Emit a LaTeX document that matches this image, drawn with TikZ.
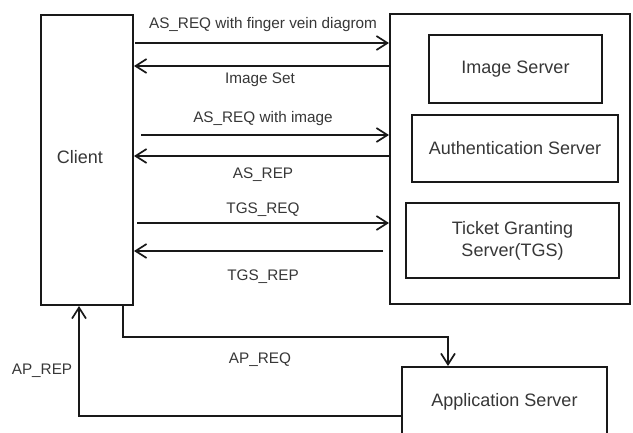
\documentclass[tikz,border=0pt]{standalone}
\usepackage{fontspec}
\setmainfont{Liberation Sans}
\usetikzlibrary{arrows.meta}
\definecolor{txtgray}{RGB}{55,55,55}
\definecolor{linec}{RGB}{25,25,25}
\begin{document}
\begin{tikzpicture}[x=1pt,y=-1pt,
  box/.style={draw=linec, line width=2pt, inner sep=0pt, align=center,
    text=txtgray, font=\fontsize{18}{22}\selectfont},
  lab/.style={text=txtgray, inner sep=0pt, font=\fontsize{15.3}{18}\selectfont},
  msg/.style={draw=linec, -{Straight Barb[length=11pt,width=14pt,line width=1.7pt]}},
  thickmsg/.style={msg, line width=2.3pt},
  midmsg/.style={msg, line width=1.6pt},
  thinmsg/.style={msg, line width=1.1pt}]
\path[fill=white,use as bounding box] (0,0) rectangle (633,432);
% nodes
\node[box, minimum width=92pt, minimum height=290pt] (client) at (87,160) {};
\node[text=txtgray, inner sep=0pt, font=\fontsize{18}{22}\selectfont] (clienttxt) at (80,157) {Client};
\node[box, minimum width=240pt, minimum height=290pt] (outer) at (510,159) {};
\node[box, minimum width=173pt, minimum height=68pt] (img) at (515.5,69) {Image Server};
\node[box, minimum width=206pt, minimum height=67pt] (auth) at (515,148.5) {Authentication Server};
\node[box, minimum width=213pt, minimum height=75pt] (tgs) at (512.5,240.5) {Ticket Granting\\Server(TGS)};
\node[box, minimum width=205pt, minimum height=70pt] (app) at (504.5,402) {Application Server};
% helper coordinates
\coordinate (s1) at (135,43);
\coordinate (y2) at (0,66);
\coordinate (s3) at (141,135);
\coordinate (y4) at (0,156);
\coordinate (s5) at (137,223);
\coordinate (s6) at (383,251);
\coordinate (apq) at (123,337);
\coordinate (apd) at (448,337);
\coordinate (apr) at (79,416);
% messages
\draw[thickmsg] (s1) -- (outer.west |- s1);
\draw[thickmsg] (outer.west |- y2) -- (client.east |- y2);
\draw[midmsg] (s3) -- (outer.west |- s3);
\draw[midmsg] (outer.west |- y4) -- (client.east |- y4);
\draw[thinmsg] (s5) -- (outer.west |- s5);
\draw[thickmsg] (s6) -- (client.east |- s6);
\draw[midmsg] (client.south -| apq) -- (apq) -- (apd) -- (app.north -| apd);
\draw[midmsg] (app.west |- apr) -- (apr) -- (client.south -| apr);
% labels
\node[lab] (l1) at (263,25) {AS\_REQ with finger vein diagrom};
\node[lab] (l2) at (260,80) {Image Set};
\node[lab] (l3) at (263,119) {AS\_REQ with image};
\node[lab] (l4) at (263,175) {AS\_REP};
\node[lab] (l5) at (263,210) {TGS\_REQ};
\node[lab] (l6) at (263,277) {TGS\_REP};
\node[lab] (l7) at (260,360) {AP\_REQ};
\node[lab] (l8) at (42,371) {AP\_REP};
\end{tikzpicture}
\end{document}
